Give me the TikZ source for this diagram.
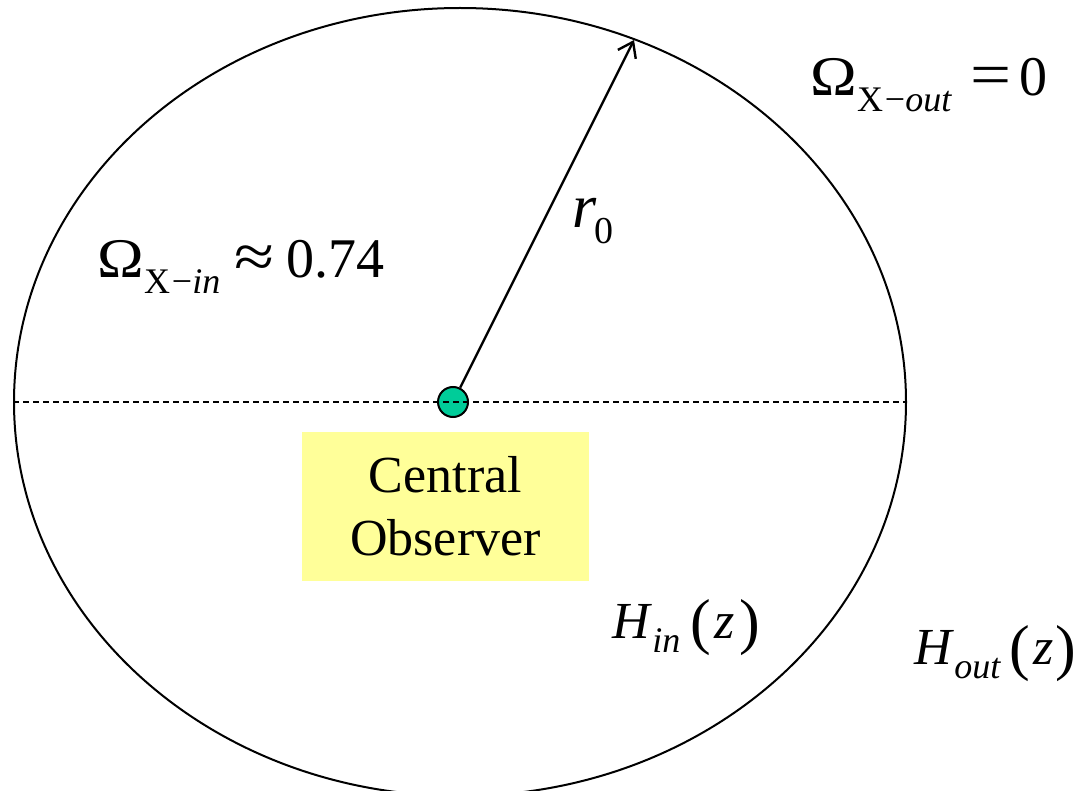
\documentclass[tikz,border=0pt]{standalone}
\usepackage{fontspec}
\setmainfont{Liberation Serif}
\usetikzlibrary{shapes.geometric, arrows.meta, positioning}

\definecolor{obsgreen}{RGB}{0,204,153}
\definecolor{boxyellow}{RGB}{255,255,153}

\newcommand{\lowsub}[1]{\raisebox{-0.27em}{\fontsize{18}{18}\selectfont #1}}
\newcommand{\tallpar}[1]{\raisebox{-0.08em}{\fontsize{31}{31}\selectfont #1}}
\newcommand{\bigomega}{\scalebox{1.12}[1]{Ω}}
\newcommand{\widerel}[1]{\scalebox{1.3}[1.1]{#1}}

\begin{document}
\begin{tikzpicture}[
  x=0.5pt, y=-0.5pt,
  horizon/.style={
    ellipse, draw=black, line width=1pt,
    minimum width=446pt, minimum height=394pt,
    inner sep=0pt
  },
  observer/.style={
    circle, draw=black, line width=1pt, fill=obsgreen,
    minimum size=15pt, inner sep=0pt
  },
  labelbox/.style={
    rectangle, fill=boxyellow, align=center,
    minimum width=143.5pt, minimum height=74.5pt,
    font=\fontsize{26}{31.5}\selectfont
  },
  formula/.style={
    anchor=base west, inner sep=0pt,
    font=\fontsize{28}{32}\selectfont
  },
  hubble/.style={formula, font=\fontsize{26}{30}\selectfont},
  arr/.style={-{Straight Barb[length=7pt, width=10pt]}, line width=1.2pt},
  midline/.style={dashed, dash pattern=on 3pt off 2pt, line width=0.7pt}
]
\useasboundingbox (0,0) rectangle (1082,791);

%% Boundary of the inner region and the observer
\node[horizon]  (horizon) at (460,402) {};
\node[observer] (obs)     at (453,402) {};
\coordinate (rim) at (634,40);

%% Radius and equator
\draw[arr] (obs) -- (rim);
\draw[midline] (horizon.west) -- (horizon.east);

%% Observer label
\node[labelbox] (central) at (445.5,506.5) {Central\\Observer};

%% Formulas
\node[formula] (omegaout) at (810,96)
  {\bigomega\lowsub{X\kern1pt−\textit{out}}\kern9pt\widerel{=}\kern4pt0};
\node[formula] (omegain) at (97,278)
  {\bigomega\lowsub{X\kern1pt−\textit{in}}\kern7pt\widerel{≈}\kern6pt0.74};
\node[formula] (radius) at (572,228)
  {{\fontsize{31}{31}\selectfont\textit{r}}\kern-1pt\lowsub{\fontsize{19}{19}\selectfont 0}};
\node[hubble] (hin) at (612,638)
  {\textit{H}\lowsub{\textit{in}}\kern5pt\tallpar{(}\kern2pt\textit{z}\kern2pt\tallpar{)}};
\node[hubble] (hout) at (914,664)
  {\textit{H}\lowsub{\textit{out}}\kern4pt\tallpar{(}\kern2pt\textit{z}\kern1pt\tallpar{)}};

\end{tikzpicture}
\end{document}
